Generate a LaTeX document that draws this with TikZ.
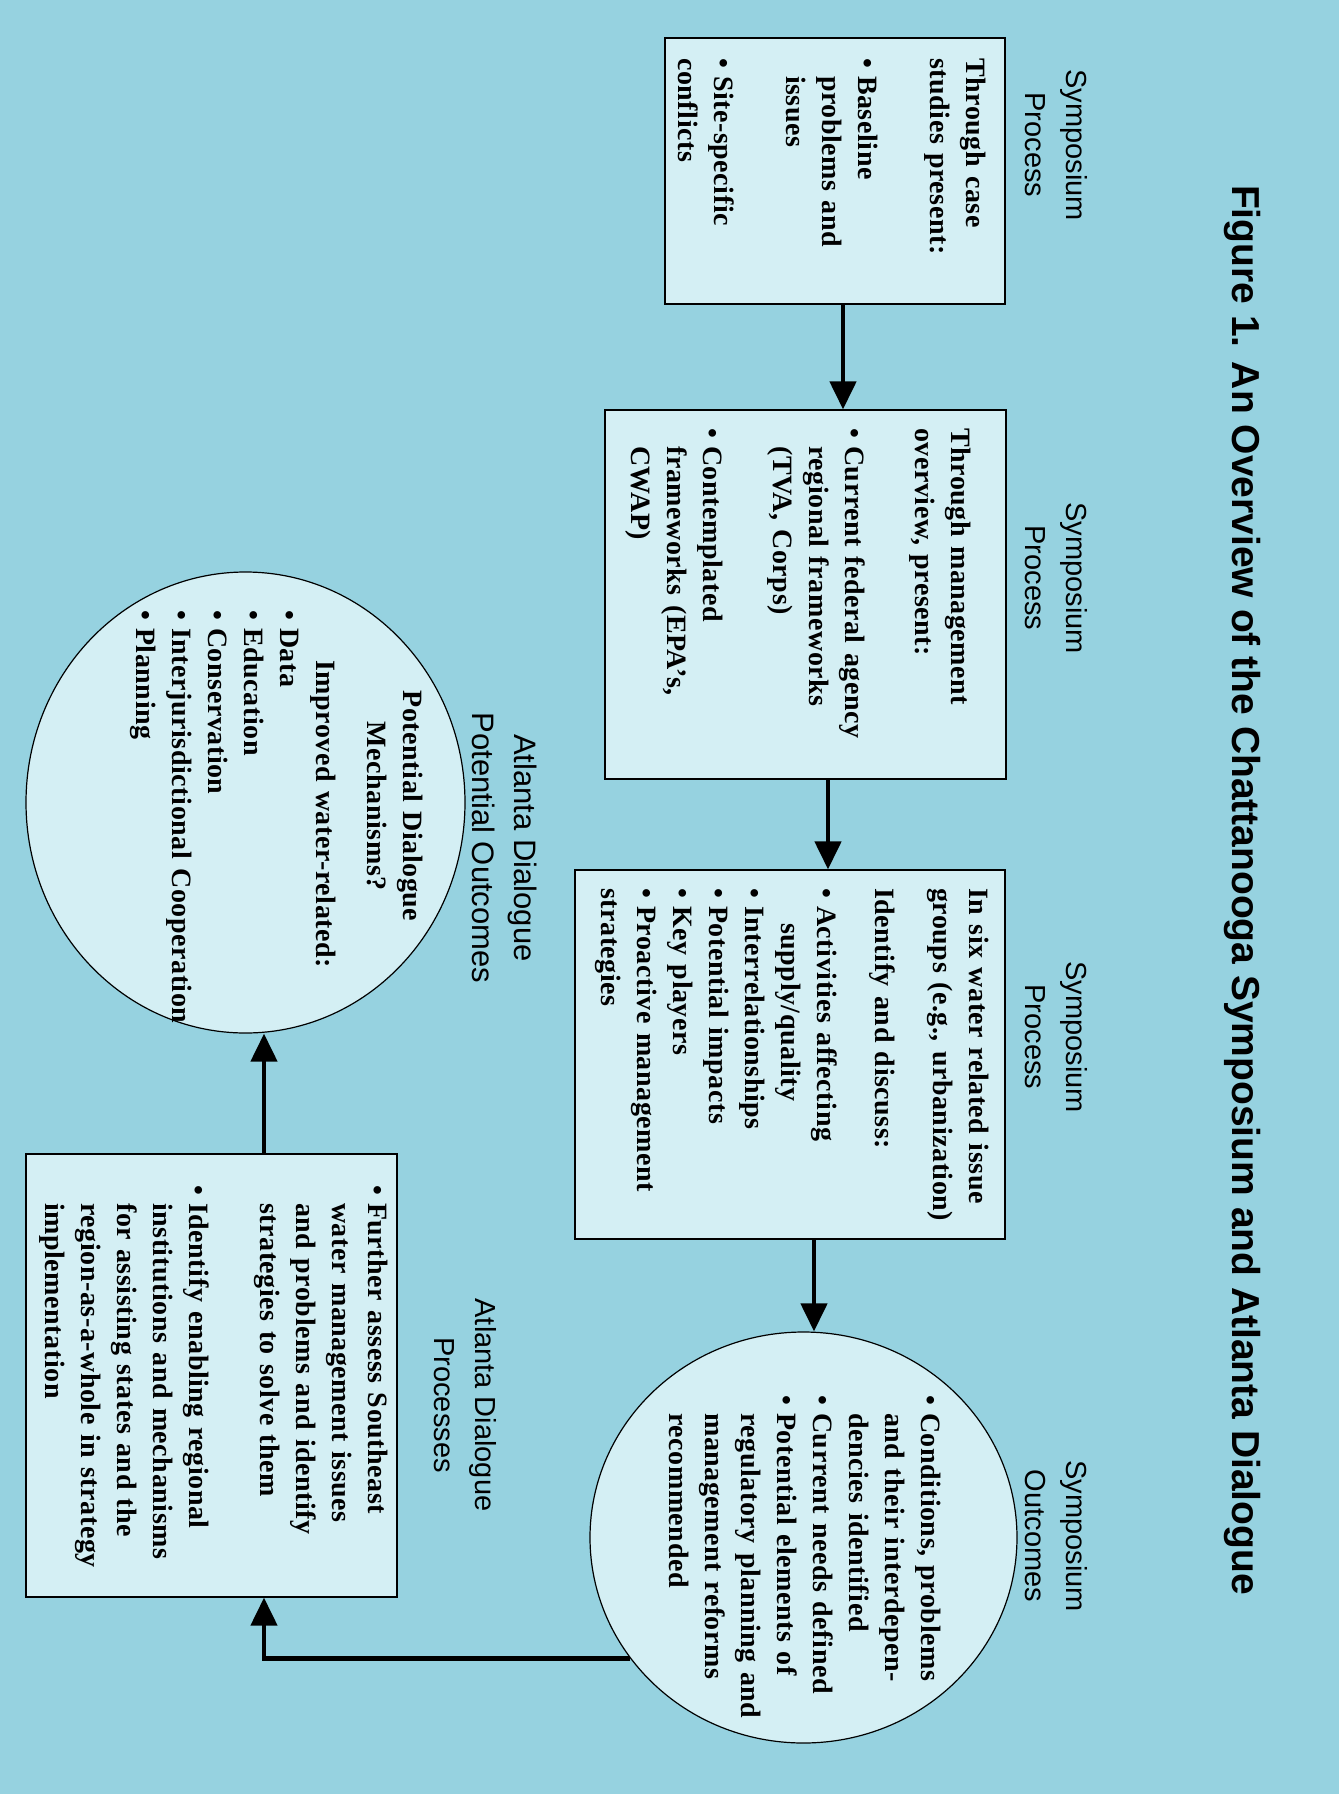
\documentclass[tikz,border=0pt]{standalone}
\usepackage{fontspec}
\setmainfont{Liberation Serif}
\newfontfamily\bodyfont{Liberation Serif}[LetterSpace=2]
\newfontfamily\tagfont{Liberation Sans}
\usetikzlibrary{shapes.geometric,arrows.meta}
\definecolor{water}{RGB}{150,210,224}
\definecolor{pane}{RGB}{212,239,244}
\newcommand{\bul}{\makebox[18pt][l]{\textbullet}}
\newcommand{\ind}{\hspace*{18pt}}

\begin{document}
\begin{tikzpicture}
  [x=1pt,y=-1pt,
   stage/.style={rectangle,draw,line width=1.2pt,fill=pane,rotate=-90,inner sep=0pt},
   outcome/.style={ellipse,draw,line width=1.2pt,fill=pane,rotate=-90,inner sep=0pt},
   body/.style={rotate=-90,anchor=north west,inner sep=0pt,align=left,text width=#1,
     font=\bodyfont\bfseries\fontsize{28}{36}\selectfont},
   tag/.style={rotate=-90,align=center,font=\tagfont\fontsize{29}{41}\selectfont},
   flow/.style={line width=4.5pt,-{Triangle[width=26pt,length=28pt]}}]
  \fill[water] (0,0) rectangle (1339,1794);
  \useasboundingbox (0,0) rectangle (1339,1794);

  \node[tag,font=\tagfont\bfseries\fontsize{39}{46}\selectfont] (title) at (1242,890)
    {Figure 1. An Overview of the Chattanooga Symposium and Atlanta Dialogue};

  \node[stage,minimum width=266pt,minimum height=340pt] (proc1) at (835,171) {};
  \node[stage,minimum width=369pt,minimum height=401pt] (proc2) at (805.5,594.5) {};
  \node[stage,minimum width=369pt,minimum height=430pt] (proc3) at (790,1054.5) {};
  \node[outcome,minimum width=411pt,minimum height=427pt] (symout) at (803.5,1537.5) {};
  \node[stage,minimum width=443pt,minimum height=371pt] (atlproc) at (211.5,1375.5) {};
  \node[outcome,minimum width=461pt,minimum height=439pt] (atlout) at (245.5,802.5) {};

  \node[tag] (tag1) at (1056,145) {Symposium\\Process};
  \node[tag] (tag2) at (1056,578) {Symposium\\Process};
  \node[tag] (tag3) at (1056,1037) {Symposium\\Process};
  \node[tag] (tag4) at (1056,1536) {Symposium\\Outcomes};
  \node[tag,font=\tagfont\fontsize{31}{42}\selectfont] (tag5) at (505,848) {Atlanta Dialogue\\Potential Outcomes};
  \node[tag] (tag6) at (465,1405) {Atlanta Dialogue\\Processes};

  \node[body=250pt] (proc1txt) at (986,58)
    {Through case\\ studies present:\\[36pt]
     \bul Baseline\\ \ind problems and\\ \ind issues\\[36pt]
     \bul Site-specific\\ conflicts};
  \node[body=350pt] (proc2txt) at (971,428)
    {Through management\\ overview, present:\\[34pt]
     \bul Current federal agency\\ \ind regional frameworks\\ \ind (TVA, Corps)\\[34pt]
     \bul Contemplated\\ \ind frameworks (EPA’s,\\ \ind CWAP)};
  \node[body=360pt] (proc3txt) at (989,888)
    {In six water related issue\\ groups (e.g., urbanization)\\[22pt]
     Identify and discuss:\\[22pt]
     \bul Activities affecting\\ \hspace*{35pt}supply/quality\\
     \bul Interrelationships\\ \bul Potential impacts\\ \bul Key players\\
     \bul Proactive management\\ strategies};
  \node[body=360pt] (symouttxt) at (941,1395)
    {\bul Conditions, problems\\ \ind and their interdepen-\\ \ind dencies identified\\
     \bul Current needs defined\\
     \bul Potential elements of\\ \ind regulatory planning and\\ \ind management reforms\\ \ind recommended};
  \node[body=400pt] (atlproctxt) at (388,1185)
    {\bul Further assess Southeast\\ \ind water management issues\\ \ind and problems and identify\\ \ind strategies to solve them\\[35pt]
     \bul Identify enabling regional\\ \ind institutions and mechanisms\\ \ind for assisting states and the\\ \ind region-as-a-whole in strategy\\ \ind implementation};
  \node[body=300pt,align=center,anchor=north] (atlouthead) at (423,806)
    {Potential Dialogue\\ Mechanisms?};
  \node[body=420pt] (atlouttxt) at (336,610)
    {\hspace*{50pt}Improved water-related:\\
     \bul Data\\ \bul Education\\ \bul Conservation\\ \bul Interjurisdictional Cooperation\\ \bul Planning};

  \foreach \from/\to/\dx in {proc1/proc2/8,proc2/proc3/22.5,proc3/symout/24}
    \draw[flow] ([xshift=\dx pt]\from.east) coordinate (s) -- (s |- \to.west);
  \draw[flow] (symout.305) -| ([xshift=52.5pt]atlproc.east);
  \draw[flow] ([xshift=52.5pt]atlproc.west) coordinate (u) -- (u |- atlout.east);
\end{tikzpicture}
\end{document}
